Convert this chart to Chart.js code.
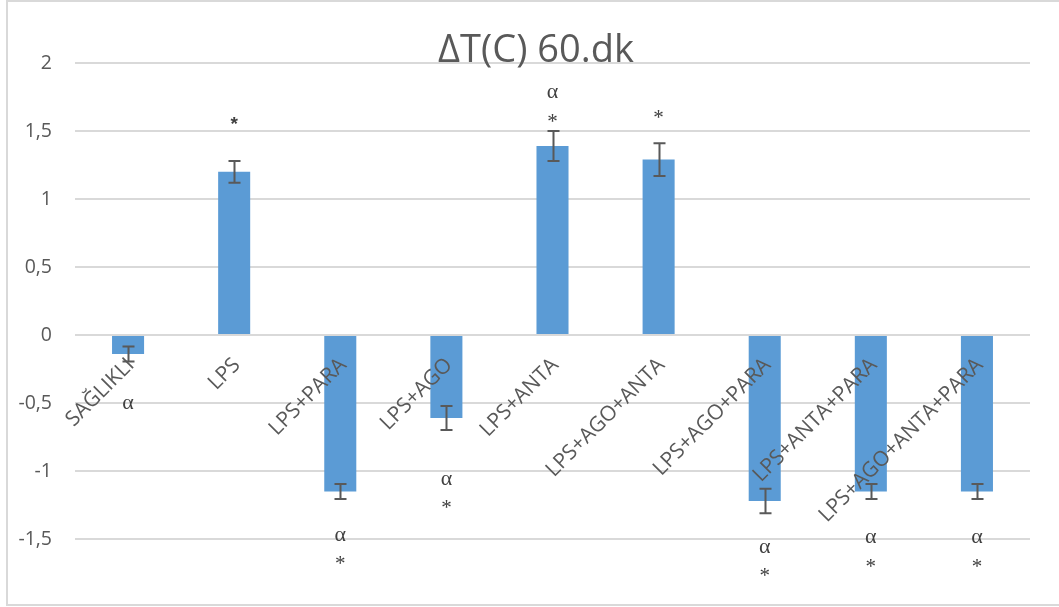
<!DOCTYPE html>
<html>
<head>
<meta charset="utf-8">
<script src="https://cdn.jsdelivr.net/npm/chart.js@4"></script>
<style>
  html, body { margin: 0; padding: 0; background: #ffffff; }
  #wrap { position: relative; width: 1059px; height: 607px; }
</style>
</head>
<body>
<div id="wrap"><canvas id="c" width="1059" height="607"></canvas></div>
<script>
// Groups on the category axis
const groups = ['SAĞLIKLI', 'LPS', 'LPS+PARA', 'LPS+AGO', 'LPS+ANTA', 'LPS+AGO+ANTA',
                'LPS+AGO+PARA', 'LPS+ANTA+PARA', 'LPS+AGO+ANTA+PARA'];
// Mean temperature change after 60 minutes
const deltaT = [-0.14, 1.2, -1.15, -0.61, 1.39, 1.29, -1.22, -1.15, -1.15];
// Standard error for each group
const stdErr = [0.055, 0.08, 0.055, 0.088, 0.11, 0.12, 0.09, 0.055, 0.055];
// Value axis ticks
const yTicks = [-1.5, -1, -0.5, 0, 0.5, 1, 1.5, 2];
const chartTitle = 'ΔT(C) 60.dk';

// Significance marks: group index, symbol, vertical placement in axis units
const marks = [
  { i: 0, s: 'α', y: -0.505 },
  { i: 1, s: '*', y: 1.568, sans: true },
  { i: 2, s: 'α', y: -1.476 }, { i: 2, s: '*', y: -1.652 },
  { i: 3, s: 'α', y: -1.064 }, { i: 3, s: '*', y: -1.24 },
  { i: 4, s: 'α', y: 1.782 },  { i: 4, s: '*', y: 1.598 },
  { i: 5, s: '*', y: 1.627 },
  { i: 6, s: 'α', y: -1.564 }, { i: 6, s: '*', y: -1.74 },
  { i: 7, s: 'α', y: -1.49 },  { i: 7, s: '*', y: -1.674 },
  { i: 8, s: 'α', y: -1.49 },  { i: 8, s: '*', y: -1.674 }
];

const GREY = '#595959';
const GRID = '#d9d9d9';

const framePlugin = {
  id: 'frame',
  beforeDraw(chart) {
    const ctx = chart.ctx;
    ctx.save();
    ctx.strokeStyle = GRID;
    ctx.lineWidth = 2;
    ctx.strokeRect(7, 1, 1100, 604);
    ctx.restore();
  }
};

const overlayPlugin = {
  id: 'overlay',
  afterDatasetsDraw(chart) {
    const ctx = chart.ctx;
    const xs = chart.scales.x, ys = chart.scales.y;
    const zero = ys.getPixelForValue(0);

    // rotated category labels hanging from the zero line
    ctx.save();
    ctx.fillStyle = GREY;
    ctx.font = '21px "Open Sans"';
    ctx.textAlign = 'right';
    ctx.textBaseline = 'alphabetic';
    groups.forEach((g, i) => {
      const cx = xs.getPixelForValue(i);
      ctx.save();
      ctx.translate(cx + 7, zero + 31);
      ctx.rotate(-Math.PI / 4);
      ctx.fillText(g, 0, 0);
      ctx.restore();
    });
    ctx.restore();

    // error bars
    ctx.save();
    ctx.strokeStyle = GREY;
    ctx.lineWidth = 2;
    deltaT.forEach((v, i) => {
      const cx = Math.round(xs.getPixelForValue(i)) + 0.5;
      const y1 = ys.getPixelForValue(v - stdErr[i]);
      const y2 = ys.getPixelForValue(v + stdErr[i]);
      ctx.beginPath();
      ctx.moveTo(cx, y1); ctx.lineTo(cx, y2);
      ctx.moveTo(cx - 6, y1); ctx.lineTo(cx + 6, y1);
      ctx.moveTo(cx - 6, y2); ctx.lineTo(cx + 6, y2);
      ctx.stroke();
    });
    ctx.restore();

    // significance marks
    ctx.save();
    ctx.fillStyle = '#404040';
    ctx.textAlign = 'center';
    ctx.textBaseline = 'alphabetic';
    marks.forEach(m => {
      const cx = xs.getPixelForValue(m.i);
      const cy = ys.getPixelForValue(m.y);
      if (m.s === '*') {
        ctx.font = m.sans ? 'bold 19px "Liberation Sans"' : '21px "Liberation Serif"';
        ctx.fillText(m.s, cx, cy + (m.sans ? 8 : 10));
      } else {
        ctx.font = '22px "Liberation Serif"';
        ctx.fillText(m.s, cx, cy + 5);
      }
    });
    ctx.restore();

    // title
    ctx.save();
    ctx.fillStyle = GREY;
    ctx.font = '38px "Open Sans"';
    ctx.textAlign = 'center';
    ctx.textBaseline = 'alphabetic';
    ctx.fillText(chartTitle, 536, 62);
    ctx.restore();
  }
};

new Chart(document.getElementById('c'), {
  type: 'bar',
  data: {
    labels: groups,
    datasets: [{
      data: deltaT,
      backgroundColor: '#5B9BD5',
      borderWidth: 0,
      barPercentage: 0.302,
      categoryPercentage: 1
    }]
  },
  options: {
    responsive: false,
    animation: false,
    layout: { padding: { left: 0, right: 29, top: 63, bottom: 68 } },
    plugins: { legend: { display: false }, tooltip: { enabled: false }, title: { display: false } },
    scales: {
      x: { display: false },
      y: {
        min: yTicks[0],
        max: yTicks[yTicks.length - 1],
        afterFit(scale) { scale.width = 75; },
        afterBuildTicks(scale) { scale.ticks = yTicks.map(v => ({ value: v })); },
        border: { display: false },
        grid: { color: GRID, lineWidth: 2, drawTicks: false },
        ticks: {
          padding: 23,
          color: GREY,
          font: { family: '"Open Sans"', size: 19.5 },
          callback: v => String(v).replace('.', ',')
        }
      }
    }
  },
  plugins: [framePlugin, overlayPlugin]
});
</script>
</body>
</html>
